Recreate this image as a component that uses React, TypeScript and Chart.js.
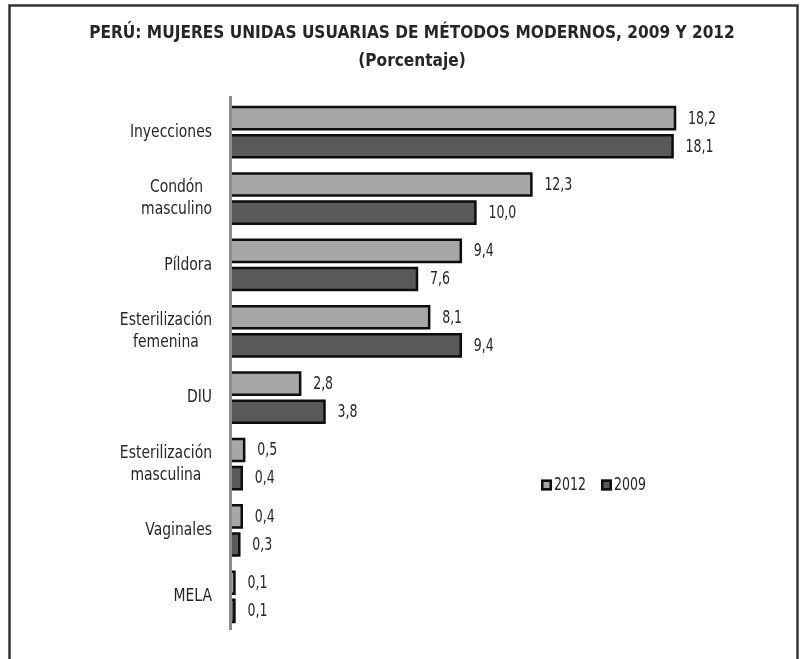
import React, { useEffect, useRef } from "react";
import { Chart, registerables } from "chart.js";

Chart.register(...registerables);

const categories: string[][] = [
  ["Inyecciones"],
  ["Condón", "masculino"],
  ["Píldora"],
  ["Esterilización", "femenina"],
  ["DIU"],
  ["Esterilización", "masculina"],
  ["Vaginales"],
  ["MELA"],
];
const values2012 = [18.2, 12.3, 9.4, 8.1, 2.8, 0.5, 0.4, 0.1];
const values2009 = [18.1, 10.0, 7.6, 9.4, 3.8, 0.4, 0.3, 0.1];
const seriesLabels = ["2012", "2009"];
const titleLines = [
  "PERÚ: MUJERES UNIDAS USUARIAS DE MÉTODOS MODERNOS, 2009 Y 2012",
  "(Porcentaje)",
];

const FONT = '"Liberation Sans Narrow", "Arial Narrow", "DejaVu Sans Condensed", sans-serif';
const TEXT = "#262626";
const COLORS = ["#a7a7a9", "#59595c"];
const EDGE = "#0d0d0d";

const fmt = (v: number) => v.toFixed(1).replace(".", ",");

function drawText(ctx: any, text: string, x: number, y: number, sx: number, align: string) {
  ctx.save();
  ctx.translate(x, y);
  ctx.scale(sx, 1);
  ctx.textAlign = align;
  ctx.fillText(text, 0, 0);
  ctx.restore();
}

const decorPlugin = {
  id: "decor",
  beforeDraw(chart: any) {
    const { ctx, width, height } = chart;
    ctx.save();
    ctx.fillStyle = "#ffffff";
    ctx.fillRect(0, 0, width, height);
    ctx.strokeStyle = "#333333";
    ctx.lineWidth = 2.5;
    ctx.beginPath();
    ctx.moveTo(9.5, height + 5);
    ctx.lineTo(9.5, 5.5);
    ctx.lineTo(width - 6.5, 5.5);
    ctx.lineTo(width - 6.5, height + 5);
    ctx.stroke();
    ctx.fillStyle = TEXT;
    ctx.font = `bold 18px ${FONT}`;
    ctx.textBaseline = "middle";
    drawText(ctx, titleLines[0], 412, 33, 0.95, "center");
    drawText(ctx, titleLines[1], 412, 61, 0.95, "center");
    ctx.restore();
  },
  beforeDatasetsDraw(chart: any) {
    const { ctx, chartArea } = chart;
    ctx.save();
    ctx.strokeStyle = "#8c8c8c";
    ctx.lineWidth = 3;
    ctx.beginPath();
    ctx.moveTo(chartArea.left - 1.5, chartArea.top - 3);
    ctx.lineTo(chartArea.left - 1.5, chartArea.bottom);
    ctx.stroke();
    ctx.restore();
  },
  afterDatasetsDraw(chart: any) {
    const { ctx, chartArea } = chart;
    ctx.save();
    ctx.strokeStyle = EDGE;
    ctx.lineWidth = 2.5;
    ctx.lineJoin = "miter";
    chart.data.datasets.forEach((_ds: any, di: number) => {
      const meta = chart.getDatasetMeta(di);
      meta.data.forEach((bar: any) => {
        const p = bar.getProps(["x", "y", "base", "height"], true);
        const top = p.y - p.height / 2;
        const bot = p.y + p.height / 2;
        ctx.beginPath();
        ctx.moveTo(p.base, top);
        ctx.lineTo(p.x, top);
        ctx.lineTo(p.x, bot);
        ctx.lineTo(p.base, bot);
        ctx.stroke();
      });
    });
    ctx.fillStyle = TEXT;
    ctx.font = `17px ${FONT}`;
    ctx.textBaseline = "middle";
    chart.data.datasets.forEach((ds: any, di: number) => {
      const meta = chart.getDatasetMeta(di);
      meta.data.forEach((bar: any, i: number) => {
        drawText(ctx, fmt(ds.data[i]), bar.x + 13, bar.y + 1, 0.82, "left");
      });
    });
    const yScale = chart.scales.y;
    ctx.font = `18px ${FONT}`;
    const sx = 0.86;
    const rightEdge = chartArea.left - 20;
    const lineH = 22;
    categories.forEach((lines, i) => {
      const cy = yScale.getPixelForValue(i);
      const w = Math.max(...lines.map((l) => ctx.measureText(l).width)) * sx;
      const cx = rightEdge - w / 2;
      const y0 = cy - ((lines.length - 1) * lineH) / 2;
      lines.forEach((l, k) => drawText(ctx, l, cx, y0 + k * lineH, sx, "center"));
    });
    ctx.font = `17px ${FONT}`;
    const legY = 485;
    let lx = 541;
    seriesLabels.forEach((lab, i) => {
      ctx.fillStyle = COLORS[i];
      ctx.fillRect(lx, legY - 5.5, 11, 11);
      ctx.strokeStyle = EDGE;
      ctx.lineWidth = 2.5;
      ctx.strokeRect(lx + 1.25, legY - 4.25, 8.5, 8.5);
      ctx.fillStyle = TEXT;
      drawText(ctx, lab, lx + 13, legY + 1, 0.82, "left");
      lx += 60;
    });
    ctx.restore();
  },
};

export default function App() {
  const ref = useRef<HTMLCanvasElement | null>(null);
  useEffect(() => {
    if (!ref.current) return;
    const common = {
      borderWidth: 0,
      categoryPercentage: 0.844,
      barPercentage: 0.79,
    };
    const chart = new Chart(ref.current, {
      type: "bar",
      data: {
        labels: categories.map((c) => c.join(" ")),
        datasets: [
          { label: seriesLabels[0], data: values2012, backgroundColor: COLORS[0], ...common },
          { label: seriesLabels[1], data: values2009, backgroundColor: COLORS[1], ...common },
        ],
      },
      options: {
        indexAxis: "y",
        responsive: true,
        maintainAspectRatio: false,
        animation: false,
        layout: { padding: { left: 232, top: 99, bottom: 29, right: 36.5 } },
        scales: {
          x: { display: false, min: 0, max: 22 },
          y: { display: false },
        },
        plugins: {
          legend: { display: false },
          title: { display: false },
          tooltip: { enabled: false },
        },
      },
      plugins: [decorPlugin],
    } as any);
    return () => chart.destroy();
  }, []);
  return (
    <div style={{ position: "fixed", left: 0, top: 0, width: 804, height: 659 }}>
      <canvas ref={ref} />
    </div>
  );
}
